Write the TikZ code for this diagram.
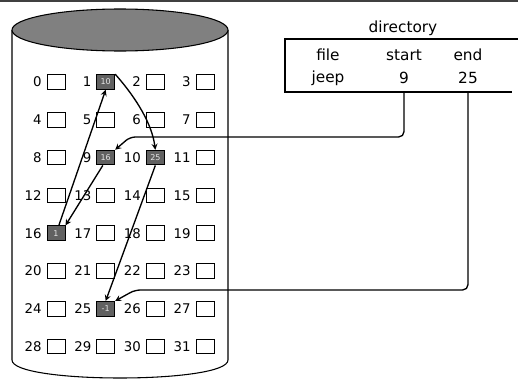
\documentclass[tikz,border=0pt]{standalone}
\usepackage{fontspec}
\setmainfont{DejaVu Sans}
\usetikzlibrary{arrows,calc,positioning}

\begin{document}
\begin{tikzpicture}[x=0.75pt,y=-0.75pt,
  freeblock/.style={rectangle, draw, line width=0.75pt, minimum width=13.5pt, minimum height=11pt, inner sep=0pt},
  usedblock/.style={freeblock, fill=black!62, text=gray!20, font=\fontsize{6}{6}\selectfont},
  numtext/.style={font=\fontsize{10}{12}\selectfont, inner sep=0pt},
  dirtext/.style={font=\fontsize{11.5}{13}\selectfont, inner sep=0pt},
  link/.style={->, >=stealth, line width=1pt}
]

\useasboundingbox (0,0) rectangle (518,382);

% top rule
\draw[gray!50!black, line width=1.5pt] (0,1) -- (518,1);

% Disk
\draw[line width=0.8pt] (12,30) -- (12,360) .. controls (12,384) and (228,384) .. (228,360) -- (228,30);
\draw[line width=0.8pt, fill=black!50] (120,30) ellipse[x radius=108, y radius=21];

% Free blocks
\foreach \n in {0,2,3,4,5,6,7,8,11,12,13,14,15,17,18,19,20,21,22,23,24,26,27,28,29,30,31} {
  \pgfmathtruncatemacro{\col}{mod(\n,4)}
  \pgfmathtruncatemacro{\row}{div(\n,4)}
  \node[freeblock] (b\n) at (56+49.67*\col, 82+37.8*\row) {};
  \node[numtext, left=3.5pt of b\n] (n\n) {\n};
}

% Blocks of jeep
\foreach \n/\v in {1/10, 9/16, 10/25, 16/1, 25/-1} {
  \pgfmathtruncatemacro{\col}{mod(\n,4)}
  \pgfmathtruncatemacro{\row}{div(\n,4)}
  \node[usedblock] (b\n) at (56+49.67*\col, 82+37.8*\row) {\v};
  \node[numtext, left=3.5pt of b\n] (n\n) {\n};
}

% Directory
\node[dirtext] (dirlabel) at (403,28) {directory};
\coordinate (dirtr) at (518,39);
\coordinate (dirbl) at (285,92);
\coordinate (dirbr) at (512,92);
\draw[line width=0.9pt] (dirtr) -| (dirbl) -- (dirbr);
\node[dirtext] (hfile) at (328,55) {file};
\node[dirtext] (hstart) at (404,55) {start};
\node[dirtext] (hend) at (468,55) {end};
\node[dirtext] (vfile) at (328,78) {jeep};
\node[dirtext] (vstart) at (404,78) {9};
\node[dirtext] (vend) at (468,78) {25};

% Pointers
\coordinate (startbend) at (130,137);
\coordinate (endbend) at (135,290);
\draw[link, rounded corners=4pt] (vstart.south |- dirbl) |- (startbend) -- (b9.north east);
\draw[link, rounded corners=4pt] (vend.south |- dirbl) |- (endbend) -- (b25.north east);

% Chain
\draw[link] (b9.250) -- (b16.north east);
\draw[link] (b16.70) -- (b1.south);
\draw[link] (b1.north east) .. controls (138,100) and (152,125) .. (b10.north);
\draw[link] (b10.south) -- (b25.north);

\end{tikzpicture}
\end{document}
